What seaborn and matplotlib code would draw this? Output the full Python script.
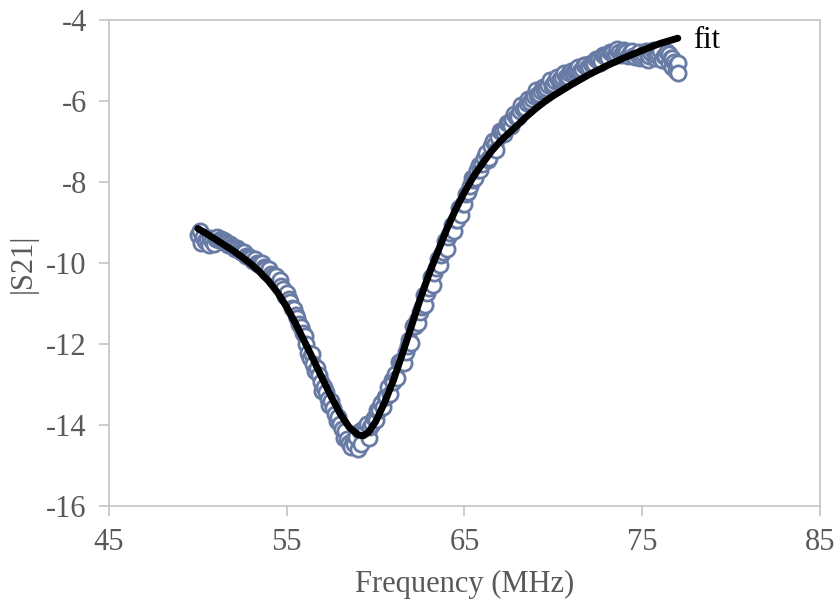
import matplotlib
matplotlib.use("Agg")
import matplotlib.pyplot as plt
import pandas as pd
import seaborn as sns

freq_a = [50.0, 50.1, 50.2, 50.3, 50.4, 50.6, 50.8, 51.0, 51.2, 51.4, 51.6, 51.8,
          52.0, 52.2, 52.4, 52.6, 52.8, 53.0, 53.2, 53.4, 53.6, 53.8, 54.0, 54.2,
          54.4, 54.6, 54.8, 55.0, 55.2, 55.4, 55.6, 55.8, 56.0, 56.2, 56.4, 56.6,
          56.8, 57.0, 57.2, 57.4, 57.6, 57.8, 58.0, 58.2, 58.4, 58.6, 58.8, 58.9,
          59.0, 59.1, 59.2, 59.4, 59.6, 59.8, 60.0, 60.2, 60.4, 60.6, 60.8, 61.0,
          61.2, 61.3, 61.4, 61.6, 61.8, 62.0, 62.1, 62.2, 62.4, 62.6, 62.8, 63.0,
          63.2, 63.4, 63.6, 63.8, 64.0, 64.2, 64.4, 64.6, 64.8, 65.0, 65.2, 65.4,
          65.6, 65.8, 66.0, 66.2, 66.4, 66.6, 66.8, 67.0, 67.2, 67.4, 67.6, 67.8,
          68.0, 68.2, 68.4, 68.6, 68.8, 69.0, 69.2, 69.4, 69.6, 69.8, 70.0, 70.2,
          70.4, 70.6, 70.8, 71.0, 71.2, 71.4, 71.6, 71.8, 72.0, 72.2, 72.4, 72.6,
          72.8, 73.0, 73.2, 73.4, 73.6, 73.8, 74.0, 74.2, 74.4, 74.6, 74.8, 75.0,
          75.2, 75.4, 75.6, 75.8, 76.0, 76.2, 76.4, 76.5, 76.6, 76.7, 76.8, 76.9,
          77.0, 77.0]
s21_a = [-9.30, -9.22, -9.50, -9.35, -9.45, -9.56, -9.46, -9.40, -9.43, -9.43, -9.51, -9.52,
         -9.60, -9.62, -9.72, -9.73, -9.83, -9.87, -9.90, -10.03, -10.01, -10.15, -10.15, -10.31,
         -10.33, -10.42, -10.65, -10.75, -10.97, -11.14, -11.36, -11.58, -11.80, -12.22, -12.24, -12.67,
         -12.76, -13.15, -13.18, -13.51, -13.59, -13.91, -13.97, -14.31, -14.34, -14.55, -14.48, -14.30,
         -14.59, -14.15, -14.46, -14.15, -14.33, -13.97, -13.87, -13.64, -13.55, -13.30, -13.23, -12.95,
         -12.84, -12.45, -12.48, -12.47, -12.05, -11.98, -11.55, -11.56, -11.49, -11.08, -11.03, -10.63,
         -10.55, -10.13, -10.06, -9.73, -9.65, -9.26, -9.22, -8.94, -8.82, -8.55, -8.25, -7.90,
         -7.91, -7.58, -7.55, -7.28, -7.41, -7.00, -7.20, -6.75, -6.82, -6.54, -6.61, -6.33,
         -6.40, -6.11, -6.17, -5.94, -5.96, -5.73, -5.82, -5.65, -5.69, -5.48, -5.57, -5.42,
         -5.46, -5.31, -5.40, -5.25, -5.25, -5.15, -5.20, -5.10, -5.15, -5.11, -4.96, -5.07,
         -4.87, -4.93, -4.79, -4.90, -4.71, -4.87, -4.73, -4.89, -4.76, -4.92, -4.79, -4.90,
         -4.77, -4.88, -4.75, -4.86, -4.73, -4.90, -4.78, -4.85, -4.95, -5.15, -5.03, -5.25,
         -5.05, -5.30]

# second pass of points lying between the ones above
freq_b = [50.5, 50.7, 50.9, 51.1, 51.3, 51.5, 51.7, 51.9, 52.1, 52.3, 52.5, 52.7,
          52.9, 53.1, 53.3, 53.5, 53.7, 53.9, 54.1, 54.3, 54.5, 54.7, 54.9, 55.1,
          55.3, 55.5, 55.7, 55.9, 56.1, 56.3, 56.5, 56.7, 56.9, 57.1, 57.3, 57.5,
          57.7, 57.9, 58.1, 58.3, 58.5, 58.7, 59.3, 59.5, 59.7, 59.9, 60.1, 60.3,
          60.5, 60.7, 60.9, 61.1, 61.5, 61.7, 61.9, 62.3, 62.5, 62.7, 62.9, 63.1,
          63.3, 63.5, 63.7, 63.9, 64.1, 64.3, 64.5, 64.7, 64.9, 65.1, 65.3, 65.5,
          65.7, 65.9, 66.1, 66.3, 66.5, 66.7, 66.9, 67.1, 67.3, 67.5, 67.7, 67.9,
          68.1, 68.3, 68.5, 68.7, 68.9, 69.1, 69.3, 69.5, 69.7, 69.9, 70.1, 70.3,
          70.5, 70.7, 70.9, 71.1, 71.3, 71.5, 71.7, 71.9, 72.1, 72.3, 72.5, 72.7,
          72.9, 73.1, 73.3, 73.5, 73.7, 73.9, 74.1, 74.3, 74.5, 74.7, 74.9, 75.1,
          75.3, 75.5, 75.7, 75.9, 76.1, 76.3, 76.5, 76.7, 76.9]
s21_b = [-9.40, -9.38, -9.52, -9.35, -9.42, -9.45, -9.55, -9.58, -9.66, -9.68, -9.74, -9.82,
         -9.86, -9.95, -10.00, -10.05, -10.10, -10.22, -10.28, -10.40, -10.50, -10.58, -10.82, -10.90,
         -11.10, -11.28, -11.50, -11.72, -12.00, -12.35, -12.50, -12.60, -12.95, -13.05, -13.35, -13.40,
         -13.72, -13.80, -14.10, -14.15, -14.45, -14.38, -14.10, -13.98, -14.05, -13.82, -13.62, -13.45,
         -13.30, -13.05, -12.90, -12.75, -12.40, -12.20, -11.90, -11.40, -11.20, -10.80, -10.75, -10.35,
         -10.25, -9.90, -9.80, -9.45, -9.35, -9.05, -8.95, -8.65, -8.55, -8.30, -8.10, -7.95,
         -7.70, -7.70, -7.40, -7.45, -7.10, -7.05, -6.90, -6.75, -6.70, -6.55, -6.45, -6.40,
         -6.25, -6.20, -6.05, -6.02, -5.88, -5.85, -5.75, -5.72, -5.60, -5.62, -5.50, -5.50,
         -5.40, -5.42, -5.30, -5.32, -5.22, -5.25, -5.12, -5.18, -5.05, -5.08, -4.98, -5.02,
         -4.90, -4.95, -4.82, -4.85, -4.78, -4.82, -4.80, -4.82, -4.88, -4.85, -4.95, -4.85,
         -4.98, -4.82, -4.95, -4.82, -5.00, -4.88, -5.05, -4.95, -5.10]

# fitted curve
fit_freq = [50.0, 50.5, 51.0, 51.5, 52.0, 52.5, 53.0, 53.5, 54.0, 54.5, 55.0, 55.5,
            56.0, 56.5, 57.0, 57.5, 58.0, 58.5, 59.0, 59.3, 59.6, 60.0, 60.5, 61.0,
            61.5, 62.0, 62.5, 63.0, 63.5, 64.0, 64.5, 65.0, 65.5, 66.0, 66.5, 67.0,
            67.5, 68.0, 68.5, 69.0, 69.5, 70.0, 71.0, 72.0, 73.0, 74.0, 75.0, 76.0, 77.0]
fit_s21 = [-9.15, -9.28, -9.42, -9.56, -9.70, -9.86, -10.03, -10.23, -10.46, -10.74, -11.09, -11.50,
           -11.94, -12.39, -12.85, -13.30, -13.72, -14.05, -14.24, -14.27, -14.18, -13.92, -13.45, -12.90,
           -12.25, -11.58, -10.90, -10.28, -9.72, -9.17, -8.68, -8.25, -7.87, -7.55, -7.25, -7.00,
           -6.79, -6.59, -6.38, -6.19, -6.02, -5.87, -5.60, -5.35, -5.13, -4.93, -4.75, -4.58, -4.45]

x_ticks = [45, 55, 65, 75, 85]
y_ticks = [-16, -14, -12, -10, -8, -6, -4]

data = pd.DataFrame({'freq': freq_a + freq_b, 's21': s21_a + s21_b})
data = data.sort_values('freq', kind='stable')

sns.set_theme(style="white")
plt.rcParams['font.family'] = ['Liberation Serif', 'DejaVu Serif']
plt.rcParams['axes.unicode_minus'] = False

text_gray = '#595959'
frame_gray = '#c4c4c4'

fig = plt.figure(figsize=(8.34, 6.04), dpi=100)
ax = fig.add_axes([0.1307, 0.1623, 0.8525, 0.8046])

sns.scatterplot(data=data, x='freq', y='s21', ax=ax, s=120, color='white',
                edgecolor='#687ba5', linewidth=2.0, zorder=2)
sns.lineplot(x=fit_freq, y=fit_s21, ax=ax, color='black', linewidth=5, zorder=3)
ax.text(77.85, -4.5, 'fit', fontsize=22, color='black', va='center', ha='left')

ax.set_xlim(45, 85)
ax.set_ylim(-16, -4)
ax.set_xticks(x_ticks)
ax.set_yticks(y_ticks)
ax.set_xticklabels([str(v) for v in x_ticks])
ax.set_yticklabels([str(v) for v in y_ticks])

for sp in ax.spines.values():
    sp.set_visible(True)
    sp.set_color(frame_gray)
    sp.set_linewidth(1.2)

ax.tick_params(axis='both', which='major', bottom=True, left=True,
               direction='out', length=7, width=1.2, color=frame_gray,
               labelsize=22, labelcolor=text_gray, pad=9)

ax.set_xlabel('Frequency (MHz)', fontsize=22, color=text_gray, labelpad=9)
ax.set_ylabel('|S21|', fontsize=22, color=text_gray)
ax.yaxis.set_label_coords(-0.100, 0.5)

fig.savefig('out.png', dpi=100)
